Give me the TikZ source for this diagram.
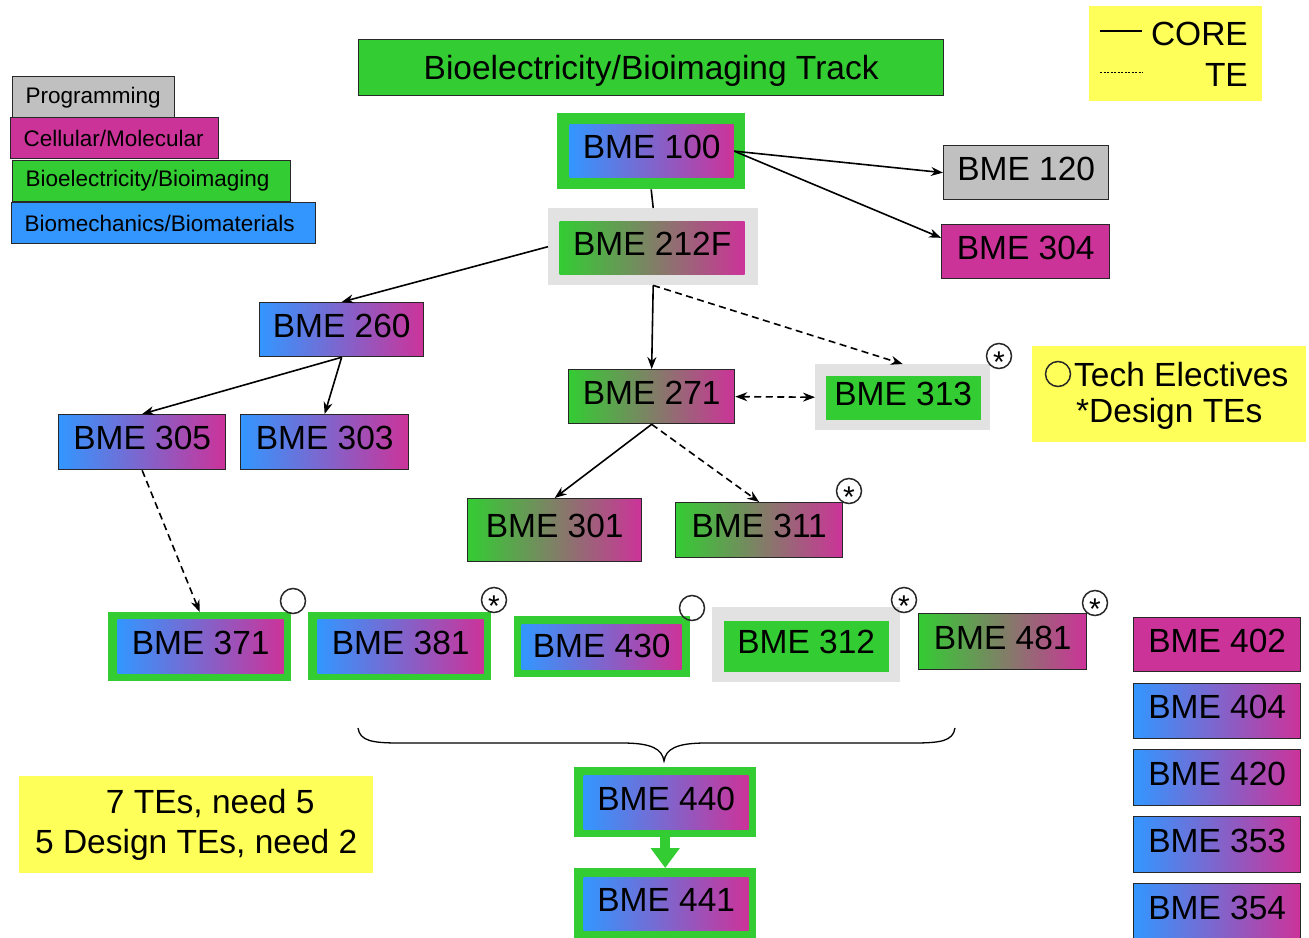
\documentclass[tikz,border=0pt]{standalone}
\usepackage{fontspec}
\setmainfont{Liberation Sans}
\usetikzlibrary{arrows.meta,calc}
\definecolor{cblue}{RGB}{51,150,255}
\definecolor{cmag}{RGB}{204,51,153}
\definecolor{cgreen}{RGB}{51,204,51}
\definecolor{cgray}{RGB}{192,192,192}
\definecolor{clgray}{RGB}{226,226,226}
\definecolor{cyel}{RGB}{255,255,90}
\definecolor{cline}{RGB}{40,40,40}
\newcommand{\bmefont}{\fontsize{33.5}{40}\selectfont}
\newcommand{\legfont}{\fontsize{22.5}{26}\selectfont}
\newcommand{\astfont}{\fontsize{30}{30}\selectfont}
\begin{document}
\begin{tikzpicture}[x=1pt,y=-1pt,
  course/.style={draw=cline, line width=1.3pt, inner sep=0pt, font=\bmefont, text=black, anchor=north west, text depth=8pt},
  bm/.style={course, left color=cblue, right color=cmag},
  gm/.style={course, left color=cgreen, right color=cmag},
  bmin/.style={bm, draw=none},
  gmin/.style={gm, draw=none},
  frg/.style={fill=cgreen, inner sep=0pt, anchor=north west},
  frl/.style={fill=clgray, inner sep=0pt, anchor=north west},
  leg/.style={draw=cline, line width=1.3pt, font=\legfont, text=black, anchor=north west, inner xsep=13pt, inner ysep=0pt, align=left, minimum height=41},
  yel/.style={fill=cyel, inner sep=0pt, anchor=north west},
  txt/.style={font=\bmefont, text=black, inner sep=0pt},
  mk/.style={circle, draw=cline, line width=1.5pt, minimum size=25, inner sep=0pt},
  ast/.style={font=\astfont, text=black, inner sep=0pt, anchor=base},
  arr/.style={draw=black, line width=1.6pt, -{Stealth[length=12pt,width=9pt]}},
  darr/.style={arr, dash pattern=on 7pt off 4.5pt},
  ddarr/.style={darr, {Stealth[length=12pt,width=9pt]}-{Stealth[length=12pt,width=9pt]}},
  conn/.style={draw=black, line width=1.6pt}
]
\useasboundingbox (0,0) rectangle (1309,937);
\fill[white] (0,0) rectangle (1309,937);

% title
\node[course, text depth=0pt, fill=cgreen, minimum width=585, minimum height=56] (title) at (358,39) {Bioelectricity/Bioimaging Track};

% legend left
\node[leg, fill=cgray, text width=136, minimum height=42] (lprog) at (12,76) {Programming};
\node[leg, fill=cmag, text width=182] (lcell) at (10,117) {Cellular/Molecular};
\node[leg, fill=cgreen, text width=252] (lbioe) at (12,160) {Bioelectricity/Bioimaging};
\node[leg, fill=cblue, text width=278] (lbiom) at (11,202) {Biomechanics/Biomaterials};

% legend top right
\node[yel, minimum width=173, minimum height=95] (lkey) at (1089,6) {};
\node[txt, anchor=east] (tcore) at (1248,34) {CORE};
\node[txt, anchor=east] (tte) at (1248,75) {TE};
\coordinate (ks1) at (1100,31); \coordinate (ke1) at (1142,31);
\coordinate (ks2) at (1100,72); \coordinate (ke2) at (1143,72);
\draw[line width=1.1pt] (ks1) -- (ke1);
\draw[line width=1pt, dash pattern=on 2pt off 1.5pt] (ks2) -- (ke2);

% legend right
\node[yel, minimum width=274, minimum height=96] (lte) at (1032,346) {};
\node[mk] (lcirc) at (1058,374) {};
\node[txt, anchor=west] (ltech) at (1074,375) {Tech Electives};
\node[txt, anchor=west] (ldes) at (1076,414) {*Design TEs};

% legend bottom left
\node[yel, minimum width=354, minimum height=97, font=\bmefont, align=center] (lneed) at (19,776) {\hspace*{28pt}7 TEs, need 5\\5 Design TEs, need 2};

% BME 100
\node[frg, minimum width=188, minimum height=76] (b100o) at (557,113) {};
\node[bmin, minimum width=164, minimum height=53] (b100) at (569,124) {BME 100};
% BME 212F
\node[frl, minimum width=210, minimum height=77] (b212o) at (548,208) {};
\node[gmin, minimum width=185, minimum height=53] (b212) at (559,221) {BME 212F};
% BME 120, 304
\node[course, fill=cgray, minimum width=165, minimum height=54] (b120) at (943,145) {BME 120};
\node[course, fill=cmag, minimum width=168, minimum height=54] (b304) at (941,224) {BME 304};
% BME 260
\node[bm, minimum width=164, minimum height=54] (b260) at (259,302) {BME 260};
% BME 271
\node[gm, minimum width=166, minimum height=54] (b271) at (568,369) {BME 271};
% BME 313
\node[frl, minimum width=175, minimum height=66] (b313o) at (815,364) {};
\node[course, draw=none, fill=cgreen, minimum width=155, minimum height=44] (b313) at (825,375) {BME 313};
\node[mk] (m313) at (999,356) {};
\node[ast] (a313) at ($(m313)+(0,16)$) {*};
% BME 305, 303
\node[bm, minimum width=167, minimum height=55] (b305) at (58,414) {BME 305};
\node[bm, minimum width=168, minimum height=55] (b303) at (240,414) {BME 303};
% BME 301, 311
\node[gm, minimum width=174, minimum height=63] (b301) at (467,498) {BME 301};
\node[gm, minimum width=167, minimum height=55] (b311) at (675,502) {BME 311};
\node[mk] (m311) at (849,491) {};
\node[ast] (a311) at ($(m311)+(0,16)$) {*};

% row of electives
\node[frg, minimum width=183, minimum height=69] (b371o) at (108,612) {};
\node[bmin, minimum width=166, minimum height=54] (b371) at (117,619) {BME 371};
\node[mk] (m371) at (293,601) {};
\node[frg, minimum width=183, minimum height=68] (b381o) at (308,612) {};
\node[bmin, minimum width=166, minimum height=54] (b381) at (317,619) {BME 381};
\node[mk] (m381) at (494,600) {};
\node[ast] (a381) at ($(m381)+(0,16)$) {*};
\node[frg, minimum width=176, minimum height=61] (b430o) at (514,616) {};
\node[bmin, minimum width=160, minimum height=45, text depth=3pt] (b430) at (521,624) {BME 430};
\node[mk] (m430) at (692,608) {};
\node[frl, minimum width=188, minimum height=75] (b312o) at (712,607) {};
\node[course, draw=none, fill=cgreen, minimum width=165, minimum height=51] (b312) at (723,620) {BME 312};
\node[mk] (m312) at (904,600) {};
\node[ast] (a312) at ($(m312)+(0,16)$) {*};
\node[gm, minimum width=168, minimum height=56] (b481) at (918,613) {BME 481};
\node[mk] (m481) at (1095,603) {};
\node[ast] (a481) at ($(m481)+(0,16)$) {*};

% brace
\draw[line width=1.3pt] (358,728) .. controls (360,741) and (372,743) .. (400,743) -- (622,743)
  .. controls (652,743) and (662,749) .. (664,761)
  .. controls (666,749) and (676,743) .. (706,743) -- (913,743)
  .. controls (941,743) and (953,741) .. (955,728);

% BME 440, 441
\node[frg, minimum width=182, minimum height=70] (b440o) at (574,767) {};
\node[bmin, minimum width=165, minimum height=54] (b440) at (583,775) {BME 440};
\node[frg, minimum width=182, minimum height=75] (b441o) at (574,868) {};
\node[bmin, minimum width=165, minimum height=53] (b441) at (583,877) {BME 441};

% right column
\node[course, fill=cmag, minimum width=167, minimum height=54] (b402) at (1133,617) {BME 402};
\node[bm, minimum width=167, minimum height=55] (b404) at (1133,683) {BME 404};
\node[bm, minimum width=167, minimum height=56] (b420) at (1133,749) {BME 420};
\node[bm, minimum width=167, minimum height=56] (b353) at (1133,816) {BME 353};
\node[bm, minimum width=167, minimum height=56] (b354) at (1133,883) {BME 354};

% connectors
\draw[conn] (b100o.south) -- (b212o.north);
\draw[arr] (b100.east) -- (b120.west);
\draw[arr] (b100.east) -- ($(b304.north west)!0.25!(b304.south west)$);
\draw[arr] (b212o.west) -- (b260.north);
\draw[arr] (b212o.south) -- (b271.north);
\draw[darr] (b212o.south) -- (b313o.north);
\draw[ddarr] (b271.east) -- (b313o.west);
\draw[arr] (b260.south) -- (b305.north);
\draw[arr] (b260.south) -- (b303.north);
\draw[arr] (b271.south) -- (b301.north);
\draw[darr] (b271.south) -- (b311.north);
\draw[darr] (b305.south) -- (b371o.north);
\draw[cgreen, line width=10pt, -{Triangle[length=20pt,width=28pt]}] (b440o.south) -- (b441o.north);
\end{tikzpicture}
\end{document}
